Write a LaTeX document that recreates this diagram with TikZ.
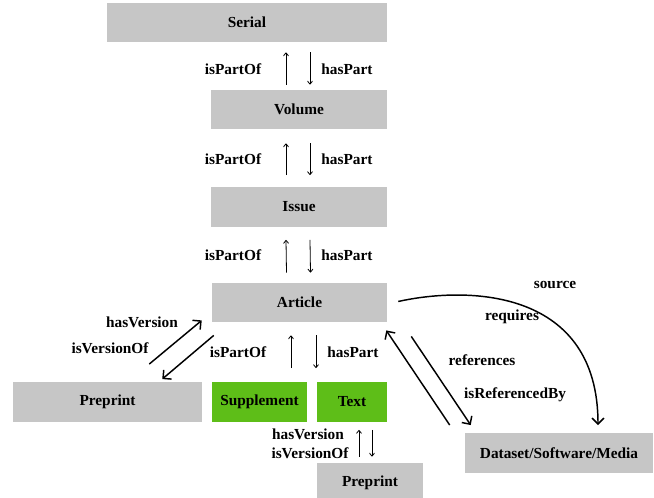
\documentclass[tikz,border=0pt]{standalone}
\usepackage{fontspec}
\setmainfont{Liberation Serif}
\usepackage{xcolor}
\usetikzlibrary{arrows.meta,calc}

\begin{document}
\begin{tikzpicture}[x=0.75pt,y=0.75pt,yscale=-1,xscale=1,
  graybox/.style={fill={rgb, 255:red, 198; green, 198; blue, 198 }, inner sep=0pt, minimum height=29.5pt, font=\bfseries\fontsize{11.5}{13}\selectfont},
  greenbox/.style={graybox, fill={rgb, 255:red, 94; green, 190; blue, 24 }},
  lbl/.style={inner sep=0.75pt, font=\bfseries\fontsize{11.5}{13}\selectfont},
  thinarr/.style={line width=0.6pt, -{To[length=2.8pt,width=4.2pt]}},
  boldarr/.style={line width=1.1pt, -{Straight Barb[length=4.5pt,width=9pt]}}]
\useasboundingbox (0,0) rectangle (654,498);

%Shape: Rectangles
\draw (247,22.5) node [graybox, minimum width=210pt] (serial) {Serial};
\draw (299,109.5) node [graybox, minimum width=132pt] (volume) {Volume};
\draw (299,207) node [graybox, minimum width=132pt] (issue) {Issue};
\draw (299.5,302.5) node [graybox, minimum width=131.25pt] (article) {Article};
\draw (107.5,402) node [graybox, minimum width=141.75pt] (preprintA) {Preprint};
\draw (259.5,402) node [greenbox, minimum width=71.25pt] (supplement) {Supplement};
\draw (352,402) node [greenbox, minimum width=52.5pt] (text) {Text};
\draw (370,482.5) node [graybox, minimum width=79.5pt] (preprintB) {Preprint};
\draw (559,453) node [graybox, minimum width=141pt] (dataset) {Dataset/Software/Media};

%Straight Lines: isPartOf / hasPart
\draw [thinarr] ($(volume.north)+(-13,-5)$) -- ($(serial.south)+(39,10)$);
\draw [thinarr] ($(serial.south)+(63,10)$) -- ($(volume.north)+(11,-5)$);
\draw [thinarr] ($(issue.north)+(-13,-12)$) -- ($(volume.south)+(-13,14)$);
\draw [thinarr] ($(volume.south)+(11,14)$) -- ($(issue.north)+(11,-12)$);
\draw [thinarr] ($(article.north)+(-13,-10)$) -- ($(issue.south)+(-13,13)$);
\draw [thinarr] ($(issue.south)+(11,13)$) -- ($(article.north)+(11,-10)$);
\draw [thinarr] ($(supplement.north)+(31.5,-14)$) -- ($(article.south)+(-8.5,13)$);
\draw [thinarr] ($(article.south)+(16.5,13)$) -- ($(text.north)+(-36,-14)$);
%Straight Lines: hasVersion / isVersionOf below Text
\draw [thinarr] ($(preprintB.north)+(-11,-6)$) -- ($(text.south)+(7,8)$);
\draw [thinarr] ($(text.south)+(20,8)$) -- ($(preprintB.north)+(2,-6)$);
%Straight Lines: hasVersion / isVersionOf
\draw [boldarr] ($(preprintA.north east)+(-53,-18)$) -- ($(article.south west)+(-10,-2)$);
\draw [boldarr] ($(article.south west)+(2,13)$) -- ($(preprintA.north east)+(-40,-3)$);
%Straight Lines: references / isReferencedBy
\draw [boldarr] ($(dataset.north west)+(-15,-8)$) -- ($(article.south east)+(-1,8)$);
\draw [boldarr] ($(article.south east)+(24,14)$) -- ($(dataset.north west)+(6,-8)$);
%Curve Lines: source / requires
\draw [boldarr] ($(article.east)+(11,-1)$) .. controls ($(article.east)+(83,-17)$) and ($(dataset.north)+(39,-143)$) .. ($(dataset.north)+(39,-8)$);

% Text Node
\draw (233,69) node [lbl] (lblPartA) {isPartOf};
% Text Node
\draw (347,69) node [lbl] (lblHasA) {hasPart};
% Text Node
\draw (233,159) node [lbl] (lblPartB) {isPartOf};
% Text Node
\draw (347,159) node [lbl] (lblHasB) {hasPart};
% Text Node
\draw (233,255) node [lbl] (lblPartC) {isPartOf};
% Text Node
\draw (347,255) node [lbl] (lblHasC) {hasPart};
% Text Node
\draw (238,352) node [lbl] (lblPartD) {isPartOf};
% Text Node
\draw (353,352) node [lbl] (lblHasD) {hasPart};
% Text Node
\draw (142,322) node [lbl] (lblVerA) {hasVersion};
% Text Node
\draw (110,348) node [lbl] (lblVerOfA) {isVersionOf};
% Text Node
\draw (308,434) node [lbl] (lblVerB) {hasVersion};
% Text Node
\draw (310,453) node [lbl] (lblVerOfB) {isVersionOf};
% Text Node
\draw (482,360) node [lbl] (lblRef) {references};
% Text Node
\draw (515,395) node [lbl] (lblRefBy) {isReferencedBy};
% Text Node
\draw (555,285) node [lbl] (lblSource) {source};
% Text Node
\draw (512,317) node [lbl] (lblReq) {requires};
\end{tikzpicture}
\end{document}
